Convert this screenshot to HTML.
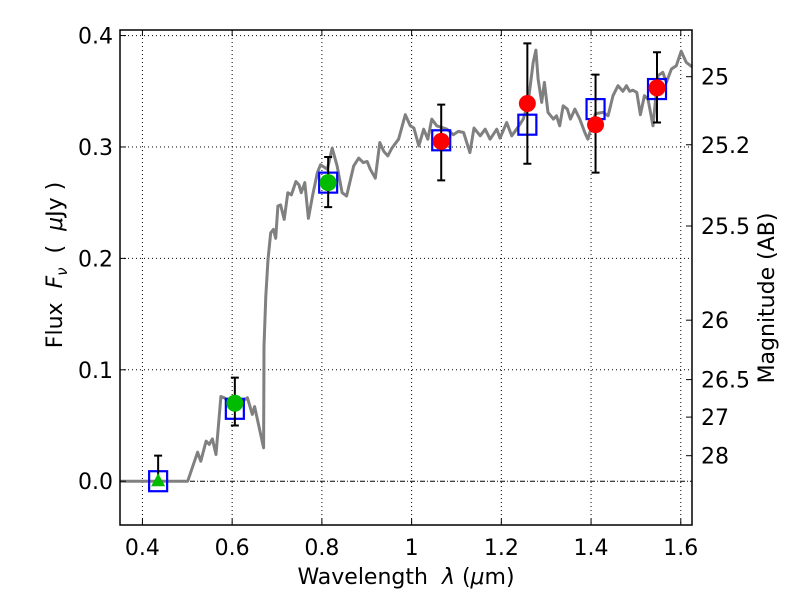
<!DOCTYPE html>
<html><head><meta charset="utf-8">
<style>
body{margin:0;background:#fff;}
svg text{font-family:"DejaVu Sans","Liberation Sans",sans-serif;}
</style></head>
<body>
<svg id="chart" width="800" height="600" xmlns="http://www.w3.org/2000/svg">
<rect width="800" height="600" fill="#fff"/>
<g id="grid"></g>
<g id="plot"></g>
<g id="axes"></g>
<text x="406" y="584" font-size="22" text-anchor="middle" xml:space="preserve">Wavelength  <tspan font-style="italic">λ</tspan> (<tspan font-style="italic">μ</tspan>m)</text>
<text transform="translate(62,265) rotate(-90)" font-size="22" text-anchor="middle" xml:space="preserve">Flux  <tspan font-style="italic">F</tspan><tspan font-style="italic" font-size="15" dy="5">ν</tspan><tspan dy="-5">  (  </tspan><tspan font-style="italic">μ</tspan>Jy )</text>
<text transform="translate(774,298) rotate(-90)" font-size="22" text-anchor="middle">Magnitude (AB)</text>
</svg>
<script>
const xTicks=[0.4,0.6,0.8,1.0,1.2,1.4,1.6];
const xTickLabels=["0.4","0.6","0.8","1","1.2","1.4","1.6"];
const yTicks=[0.0,0.1,0.2,0.3,0.4];
const yTickLabels=["0.0","0.1","0.2","0.3","0.4"];
const magTicks=[25,25.2,25.5,26,26.5,27,28];
const magTickLabels=["25","25.2","25.5","26","26.5","27","28"];
const specLam=[0.35,0.501,0.523,0.530,0.542,0.549,0.556,0.564,0.575,0.582,0.604,0.623,0.634,0.645,0.650,0.670,0.671,0.675,0.680,0.686,0.692,0.697,0.702,0.708,0.716,0.724,0.732,0.742,0.749,0.754,0.762,0.770,0.779,0.790,0.797,0.812,0.823,0.834,0.845,0.855,0.871,0.882,0.892,0.901,0.908,0.919,0.929,0.938,0.947,0.956,0.971,0.986,0.997,1.005,1.016,1.027,1.036,1.045,1.056,1.079,1.093,1.104,1.116,1.130,1.139,1.153,1.164,1.175,1.190,1.197,1.212,1.223,1.234,1.249,1.260,1.271,1.277,1.282,1.290,1.296,1.304,1.316,1.323,1.330,1.338,1.347,1.354,1.364,1.375,1.386,1.393,1.410,1.427,1.438,1.449,1.460,1.471,1.479,1.486,1.493,1.502,1.510,1.519,1.527,1.538,1.549,1.560,1.568,1.579,1.590,1.601,1.612,1.625];
const specFlux=[0,0,0.026,0.018,0.036,0.033,0.038,0.024,0.076,0.075,0.069,0.072,0.075,0.060,0.067,0.030,0.121,0.166,0.199,0.223,0.226,0.218,0.247,0.248,0.235,0.259,0.257,0.269,0.266,0.259,0.268,0.236,0.256,0.277,0.284,0.280,0.299,0.283,0.259,0.256,0.283,0.290,0.286,0.287,0.280,0.272,0.304,0.296,0.292,0.299,0.307,0.329,0.319,0.317,0.301,0.316,0.307,0.325,0.319,0.316,0.311,0.314,0.313,0.295,0.317,0.310,0.316,0.307,0.316,0.308,0.322,0.310,0.316,0.325,0.341,0.376,0.387,0.361,0.340,0.358,0.331,0.325,0.328,0.319,0.337,0.334,0.325,0.334,0.325,0.313,0.307,0.330,0.331,0.328,0.346,0.355,0.350,0.355,0.350,0.351,0.349,0.329,0.346,0.343,0.319,0.364,0.367,0.358,0.370,0.373,0.386,0.376,0.372];
const obsLam=[0.435,0.606,0.814,1.066,1.258,1.41,1.547];
const obsFlux=[0.0,0.070,0.268,0.305,0.339,0.320,0.353];
const obsLo=[0.0,0.050,0.246,0.270,0.285,0.277,0.322];
const obsHi=[0.023,0.093,0.291,0.338,0.393,0.365,0.385];
const obsKind=["tri","g","g","r","r","r","r"];
const modelFlux=[0.0,0.065,0.268,0.306,0.320,0.334,0.352];

const L=120,R=692,T=30,B=525,X0=0.35,X1=1.625,Y0=-0.0393,Y1=0.405;
const sx=v=>L+(v-X0)/(X1-X0)*(R-L);
const sy=v=>B-(v-Y0)/(Y1-Y0)*(B-T);
const NS="http://www.w3.org/2000/svg";
function mk(tag,attrs,parent){const e=document.createElementNS(NS,tag);for(const k in attrs)e.setAttribute(k,attrs[k]);parent.appendChild(e);return e;}
const grid=document.getElementById('grid'),plot=document.getElementById('plot'),axes=document.getElementById('axes');

xTicks.forEach((v,i)=>{
  const g=mk('line',{x1:sx(v),x2:sx(v),y1:T,y2:B,stroke:'#000','stroke-width':1,'stroke-dasharray':'1,3'},grid);
  
  const t=mk('line',{x1:sx(v),x2:sx(v),y1:B,y2:B-6,stroke:'#000','stroke-width':1},axes);
  
  const t2=mk('line',{x1:sx(v),x2:sx(v),y1:T,y2:T+6,stroke:'#000','stroke-width':1},axes);
  
  const l=mk('text',{x:sx(v),y:B+30,'font-size':22,'text-anchor':'middle'},axes);l.textContent=xTickLabels[i];
  
});
yTicks.forEach((v,i)=>{
  if(v!==0){const g=mk('line',{x1:L,x2:R,y1:sy(v),y2:sy(v),stroke:'#000','stroke-width':1,'stroke-dasharray':'1,3'},grid);
  }
  const t=mk('line',{x1:L,x2:L+6,y1:sy(v),y2:sy(v),stroke:'#000','stroke-width':1},axes);
  
  const l=mk('text',{x:L-7,y:sy(v)+8,'font-size':22,'text-anchor':'end'},axes);l.textContent=yTickLabels[i];
  
});
const zl=mk('line',{x1:L,x2:R,y1:sy(0),y2:sy(0),stroke:'#000','stroke-width':1,'stroke-dasharray':'5,2,1,2'},grid);

magTicks.forEach((m,i)=>{
  const f=Math.pow(10,(23.9-m)/2.5);
  const t=mk('line',{x1:R,x2:R-6,y1:sy(f),y2:sy(f),stroke:'#000','stroke-width':1},axes);
  
  const l=mk('text',{x:R+9,y:sy(f)+8,'font-size':22},axes);l.textContent=magTickLabels[i];
  
});
const fr=mk('rect',{x:L,y:T,width:R-L,height:B-T,fill:'none',stroke:'#000','stroke-width':1.5},axes);


const pts=specLam.map((v,i)=>sx(v).toFixed(1)+','+sy(specFlux[i]).toFixed(1)).join(' ');
const sp=mk('polyline',{points:pts,fill:'none',stroke:'#808080','stroke-width':3,'stroke-linejoin':'round'},plot);


obsLam.forEach((v,i)=>{
  const s=mk('rect',{x:sx(v)-9,y:sy(modelFlux[i])-10,width:18,height:20,fill:'none',stroke:'#0000ff','stroke-width':2.2},plot);
  
});
obsLam.forEach((v,i)=>{
  const x=sx(v),y1=sy(obsLo[i]),y2=sy(obsHi[i]);
  const e=mk('path',{d:`M${x},${y1}V${y2}M${x-4},${y1}H${x+4}M${x-4},${y2}H${x+4}`,stroke:'#000','stroke-width':2,fill:'none'},plot);
  
});
obsLam.forEach((v,i)=>{
  const x=sx(v),y=sy(obsFlux[i]);
  if(obsKind[i]==='tri'){
    const p=mk('polygon',{points:`${x},${y-8} ${x-7},${y+5} ${x+7},${y+5}`,fill:'#00bb00'},plot);
    
  } else {
    const c=mk('circle',{cx:x,cy:y,r:8.5,fill:obsKind[i]==='g'?'#00bb00':'#ff0000'},plot);
    
  }
});
</script>
</body></html>
